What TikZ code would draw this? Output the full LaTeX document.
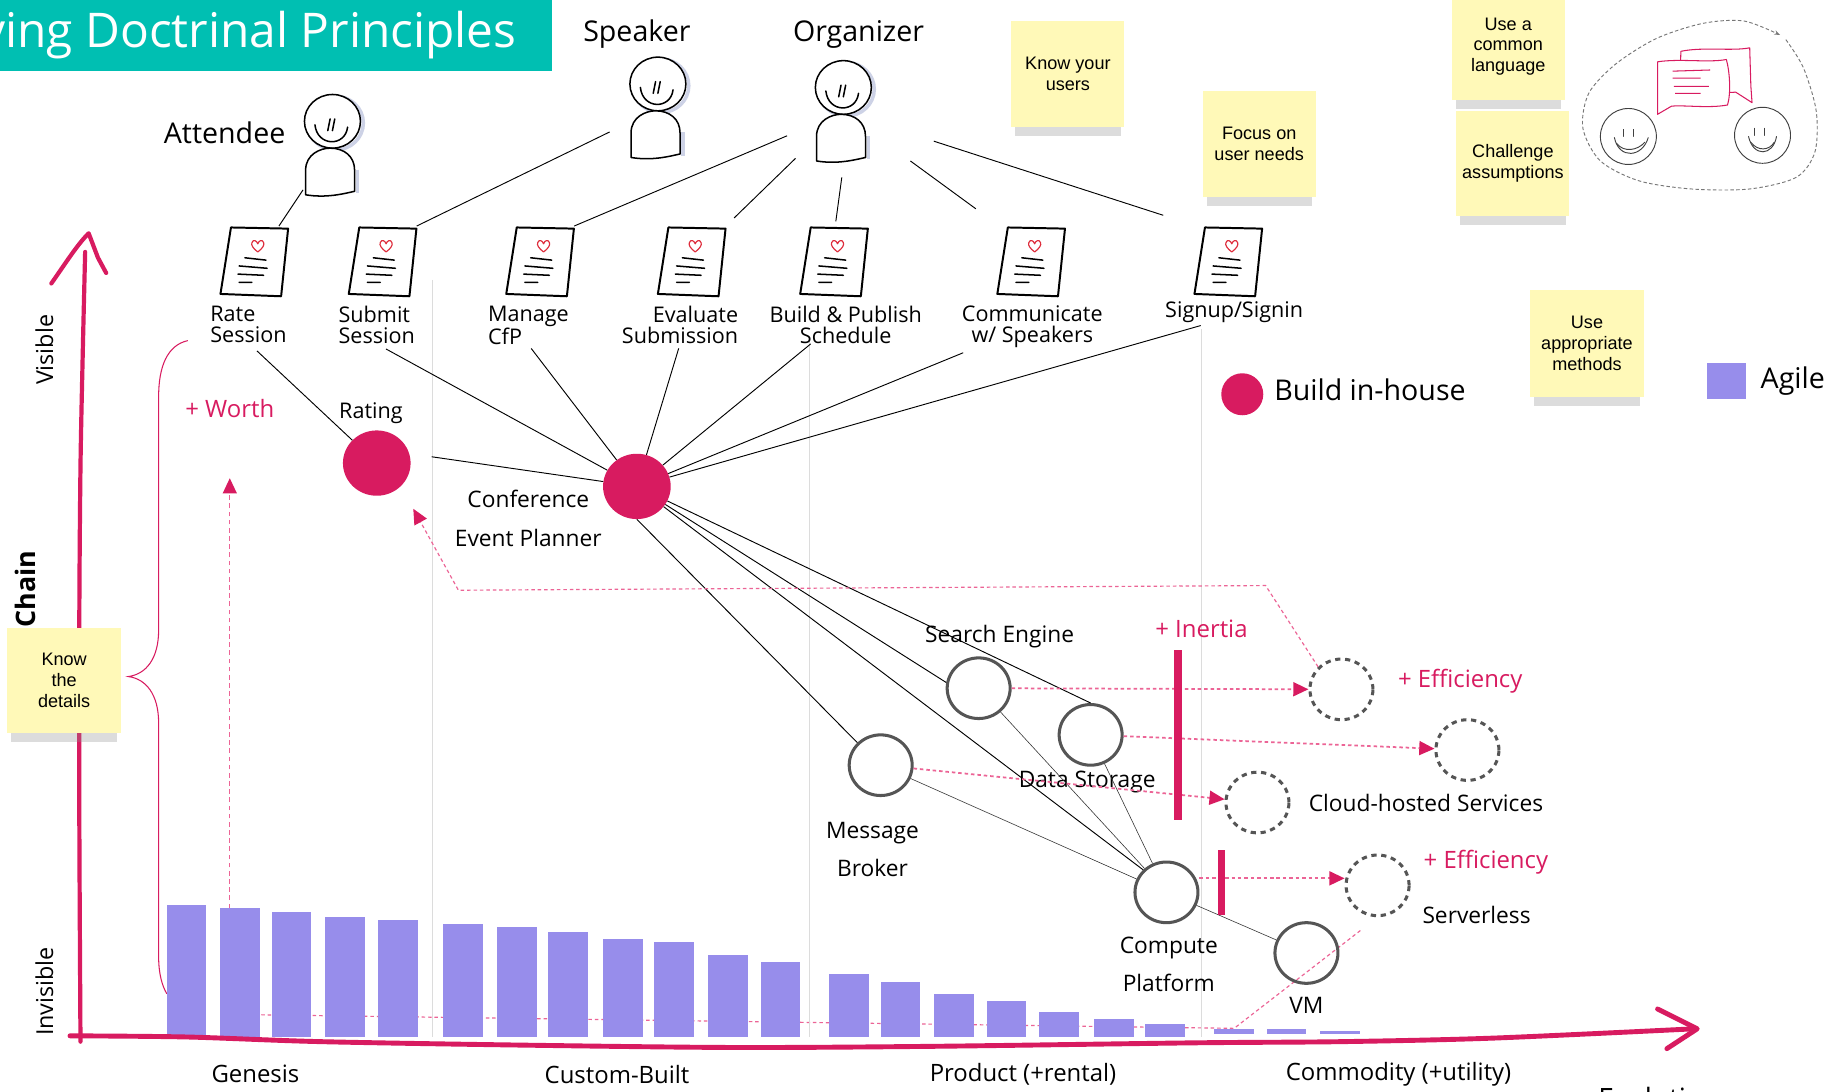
\documentclass[tikz,border=0pt]{standalone}
\usepackage{fontspec}
\setmainfont{Open Sans}
\newfontfamily\notefont{Liberation Sans}
\usetikzlibrary{positioning,shapes.geometric,arrows.meta,shadows,backgrounds}

\definecolor{wardpink}{RGB}{216,27,96}
\definecolor{softpink}{RGB}{236,100,150}
\definecolor{titleteal}{RGB}{0,191,178}
\definecolor{agile}{RGB}{151,141,235}
\definecolor{sticky}{RGB}{255,249,184}
\definecolor{gridgray}{RGB}{220,220,220}
\definecolor{inkgray}{RGB}{85,85,85}
\definecolor{heartred}{RGB}{222,45,60}
\definecolor{haze}{RGB}{205,210,230}

\tikzset{
  sketch/.style={line width=1.3pt, line cap=round, line join=round},
  % stick figure, origin in the middle of the head
  person/.pic={
    \begin{scope}[shift={(2.5,1.5)}, haze, line width=3pt]
      \draw (0,0) circle[x radius=24pt, y radius=23pt];
      \draw (19,40) -- (19,60);
    \end{scope}
    \draw[sketch, fill=white] (0,0) circle[x radius=24pt, y radius=23pt];
    \draw[sketch] (-15,3) .. controls (-13,22) and (11,22) .. (13,5);
    \draw[sketch] (-4,8) -- (-2,-2) (0,8) -- (2,-2);
    \draw[sketch, fill=white] (-23,63) -- (-23,42)
      .. controls (-23,28) and (-10,23) .. (-2,23)
      .. controls (10,23) and (19,30) .. (19,42) -- (19,60)
      .. controls (10,62) and (-5,66) .. (-23,63);
    \node[inner sep=0pt, minimum width=50pt, minimum height=92pt] (-fig) at (0,21) {};
  },
  % task sheet with a heart on top
  page/.pic={
    \draw[sketch, line width=1.7pt, fill=white] (-21,-29) -- (28,-28) -- (22,30) -- (-30,28) -- cycle;
    \draw[heartred, line width=1pt, line join=round] (2,-8)
      .. controls (-2,-11) and (-4,-14) .. (-3,-16)
      .. controls (-2,-19) and (1,-18) .. (2,-15)
      .. controls (3,-18) and (6,-19) .. (7,-16)
      .. controls (8,-14) and (6,-11) .. (2,-8);
    \draw[sketch] (-9,-3) -- (9,-1) (-14,4) -- (10,6) (-15,11) -- (7,12) (-14,18) -- (-3,18);
    \node[inner sep=0pt, minimum width=56pt, minimum height=60pt] (-page) at (0,0) {};
  },
}

\begin{document}
\begin{tikzpicture}[x=1pt, y=-1pt,
  actor/.style={inner sep=0pt, font=\fontsize{24.5}{28}\selectfont},
  task/.style={inner sep=0pt, font=\fontsize{18.5}{18}\selectfont},
  lbl/.style={inner sep=0pt, align=center, font=\fontsize{19.5}{33}\selectfont},
  stage/.style={inner sep=0pt, font=\fontsize{20.5}{24}\selectfont},
  tag/.style={inner sep=0pt, text=wardpink, font=\fontsize{20.5}{24}\selectfont},
  blob/.style={ellipse, fill=wardpink, inner sep=0pt, minimum width=58pt, minimum height=56pt},
  comp/.style={ellipse, draw=inkgray, line width=2.6pt, inner sep=0pt, minimum width=54pt, minimum height=52pt},
  future/.style={comp, dash pattern=on 4.5pt off 4pt},
  bar/.style={fill=agile, inner sep=0pt, minimum width=34pt, anchor=south},
  note/.style={fill=sticky, inner sep=2pt, minimum width=97pt, minimum height=91pt, align=center,
    font=\notefont\fontsize{15.5}{18}\selectfont,
    drop shadow={shadow xshift=0pt, shadow yshift=-12pt, shadow scale=0.93, opacity=0.3, fill=black!45}},
  link/.style={line width=0.8pt},
  sublink/.style={line width=0.5pt, black!80},
  evo/.style={softpink, line width=1pt, dash pattern=on 3pt off 2.5pt},
  push/.style={evo, line width=1.5pt, -{Triangle[length=13pt, width=12pt, color=wardpink, fill=wardpink]}},
  axis/.style={wardpink, line width=3.6pt, line cap=round, line join=round},
]
\useasboundingbox (0,0) rectangle (1568,936);
\begin{scope}[on background layer]
  \fill[white] (0,0) rectangle (1568,936);
\end{scope}

% stage dividers
\draw[gridgray, line width=0.8pt] (371,240) -- (371,889) (694,292) -- (694,889) (1030,282) -- (1030,889);

% axes
\draw[axis] plot[smooth] coordinates {(69,893) (68,700) (68,530) (69,400) (71,300) (73,216)};
\draw[axis] (44,243) .. controls (56,226) and (66,210) .. (76,200) -- (84,221) -- (91,234);
\node[rotate=90, inner sep=0pt, font=\fontsize{20}{24}\selectfont] (visL) at (38,300) {Visible};
\node[rotate=90, inner sep=0pt, font=\fontsize{20}{24}\selectfont] (invisL) at (38,850) {Invisible};
\node[rotate=90, inner sep=0pt, font=\bfseries\fontsize{23}{26}\selectfont] (chainL) at (22,505) {Chain};

% brace over the chain
\draw[wardpink, line width=0.9pt] (161,292) .. controls (143,296) and (136,315) .. (136,340) -- (136,540)
  .. controls (136,565) and (125,578) .. (110,580) .. controls (125,582) and (136,595) .. (136,620)
  -- (136,820) .. controls (136,835) and (139,845) .. (143,852);

% agile bars
\foreach \n/\x/\t/\b in {1/143/776/889, 2/189/779/889, 3/233/782/889, 4/279/786/889, 5/324/789/889,
    6/380/792/889, 7/426/795/889, 8/470/799/889, 9/517/805/889, 10/561/808/889, 11/607/819/889,
    12/652/825/889, 13/711/835/889, 14/755/842/889, 15/801/852/889, 16/846/858/889, 17/891/868/889,
    18/938/874/889, 19/982/878/889, 20/1041/882/887, 21/1086/882/887, 22/1132/884/887}
  \node[bar, minimum height=\b-\t] (bar\n) at (\x+17,\b) {};

\draw[axis, line width=4.2pt] plot[smooth] coordinates {(60,888) (160,889) (275,893) (450,896) (630,898)
  (800,897) (1025,894) (1150,893) (1279,890) (1452,882)};
\draw[axis, line width=4.2pt] (1421,865) -- (1455,882) -- (1429,899);

% stages
\node[stage] (genesis) at (219,921) {Genesis};
\node[stage] (custom) at (529,921) {Custom-Built};
\node[stage] (product) at (877,921) {Product (+rental)};
\node[stage] (commodity) at (1199,921) {Commodity (+utility)};
\node[anchor=base west, inner sep=0pt, font=\fontsize{24}{28}\selectfont] (evolL) at (1370,950) {Evolution};

% users
\pic (att) at (285,104) {person};
\pic (spk) at (564,72) {person};
\pic (org) at (723,75) {person};
\node[actor, left=15pt of att-fig, yshift=11pt] (attL) {Attendee};
\node[actor, above=5pt of spk-fig, xshift=-18pt] (spkL) {Speaker};
\node[actor, above=8pt of org-fig, xshift=13pt] (orgL) {Organizer};

% user needs
\pic (rate) at (219,224) {page};
\pic (submit) at (329,224) {page};
\pic (manage) at (464,224) {page};
\pic (eval) at (594,224) {page};
\pic (build) at (716,224) {page};
\pic (comm) at (885,224) {page};
\pic (sign) at (1054,224) {page};
\node[task, align=left, below=8pt of rate-page, xshift=-6pt] (rateL) {Rate\\Session};
\node[task, align=left, below=8pt of submit-page, xshift=-6pt] (submitL) {Submit\\Session};
\node[task, align=left, below=8pt of manage-page, xshift=-11pt] (manageL) {Manage\\CfP};
\node[task, align=right, below=8pt of eval-page, xshift=-11pt] (evalL) {Evaluate\\Submission};
\node[task, align=center, below=8pt of build-page, xshift=9pt] (buildL) {Build \& Publish\\Schedule};
\node[task, align=center, below=8pt of comm-page] (commL) {Communicate\\w/ Speakers};
\node[task, below=4pt of sign-page, xshift=4pt] (signL) {Signup/Signin};

% components
\node[blob] (rating) at (323,397) {};
\node[blob] (conf) at (546,417) {};
\node[comp] (search) at (839,590) {};
\node[comp] (storage) at (935,630) {};
\node[comp] (broker) at (755,656) {};
\node[comp] (compute) at (1000,765) {};
\node[comp] (vm) at (1120,817) {};
\node[future] (searchNext) at (1150,591) {};
\node[future] (storageNext) at (1258,643) {};
\node[future] (brokerNext) at (1078,688) {};
\node[future] (computeNext) at (1181,759) {};

\node[task, above=5pt of rating, xshift=-5pt] (ratingL) {Rating};
\node[lbl, anchor=north east] (confL) at (516,420) {Conference\\Event Planner};
\node[lbl, above=7pt of search, xshift=18pt] (searchL) {Search Engine};
\node[lbl, below=3.5pt of storage, xshift=-3pt] (storageL) {Data Storage};
\node[lbl, below=21pt of broker, xshift=-7pt] (brokerL) {Message\\Broker};
\node[lbl, below=10.5pt of compute, xshift=2pt] (computeL) {Compute\\Platform};
\node[lbl, below=10.5pt of vm] (vmL) {VM};
\node[lbl, right=15.5pt of brokerNext] (cloudL) {Cloud-hosted Services};
\node[lbl, right=10pt of computeNext, yshift=-25pt] (serverlessL) {Serverless};
\node[tag, right=20pt of searchNext, yshift=7pt] (effA) {+ Efficiency};
\node[tag, right=11pt of computeNext, yshift=20pt] (effB) {+ Efficiency};
\node[tag] (worthL) at (197,350) {+ Worth};

% users to needs
\draw[link] (att-fig) -- (rate-page);
\draw[link, shorten <=18pt] (spk-fig) -- (submit-page.north east);
\draw[link, shorten <=25pt] (org-fig) -- (manage-page.north east);
\draw[link, shorten <=22pt, shorten >=10pt] (org-fig) -- (eval-page.north east);
\draw[link, shorten <=10pt, shorten >=4pt] (org-fig.south) -- (build-page.north);
\draw[link, shorten <=40pt, shorten >=25pt] (org-fig) -- (comm-page.north west);
\draw[link, shorten <=55pt, shorten >=30pt] (org-fig) -- (sign-page.north west);

% needs to components
\draw[link, shorten <=10pt] (rateL.south) -- (rating);
\draw[link, shorten <=9pt] (submitL.south) -- (conf);
\draw[link, shorten <=4pt] (manageL.south) -- (conf);
\draw[link, shorten <=4pt] (evalL.south) -- (conf);
\draw[link] ([xshift=-30pt]buildL.south) -- (conf);
\draw[link, shorten <=10pt] ([xshift=-50pt]commL.south) -- (conf);
\draw[link, shorten <=9pt] ([xshift=-20pt]signL.south) -- (conf);
\draw[link, shorten <=18pt] ([yshift=8pt]rating.east) -- (conf);
\draw[link] (conf) -- (storage.north);
\draw[link] (conf) -- (search.170);
\draw[link] (conf) -- (compute.north west);
\draw[link] (conf.south) -- (broker.north west);
\draw[sublink] (search) -- (compute);
\draw[sublink] (storage) -- (compute);
\draw[sublink] (broker) -- (compute);
\draw[sublink] (compute) -- (vm);

% evolution
\draw[push] (search) -- (searchNext);
\draw[push] (storage) -- (storageNext);
\draw[push] (broker) -- (brokerNext);
\draw[push] ([yshift=12pt]compute.east) -- ([yshift=6pt]computeNext.west);

\coordinate (turnA) at (1085,502);
\coordinate (turnB) at (393,506);
\draw[evo, -{Triangle[length=13pt, width=12pt, color=wardpink, fill=wardpink]}, shorten >=22pt]
  (searchNext.north west) -- (turnA) -- (turnB) -- (rating.south east);
\coordinate (worthTop) at (197,410);
\draw[evo, dash pattern=on 4pt off 3pt, -{Triangle[length=13pt, width=12pt, color=wardpink, fill=wardpink]}]
  ([xshift=-9pt]bar2.north) -- (worthTop);
\coordinate (evoStart) at (224,870);
\begin{scope}[on background layer]
  \draw[evo, shorten >=18pt] (evoStart) -- (bar20.north) -- (computeNext.south);
\end{scope}

% inertia
\node[fill=wardpink, inner sep=0pt, minimum width=6.5pt, minimum height=146pt] (inertiaA) at (1010,630) {};
\node[fill=wardpink, inner sep=0pt, minimum width=6.5pt, minimum height=55pt] (inertiaB) at (1047,756.5) {};
\node[tag, above=10pt of inertiaA, xshift=20pt] (inertiaL) {+ Inertia};

% legend
\node[blob, minimum width=36pt, minimum height=36pt] (legBlob) at (1065,338) {};
\node[actor, right=9pt of legBlob, yshift=4pt] (legBuild) {Build in-house};
\node[fill=agile, inner sep=0pt, minimum width=34pt, minimum height=31pt] (legAgile) at (1480,326.5) {};
\node[actor, right=12pt of legAgile] (legAgileL) {Agile};

% principles
\node[note] (knowUsers) at (915.5,63.5) {Know your\\users};
\node[note] (focus) at (1079.5,123.5) {Focus on\\user needs};
\node[note] (common) at (1293,40) {Use a\\common\\language};
\node[note, minimum height=90pt] (challenge) at (1297,140) {Challenge\\assumptions};
\node[note] (methods) at (1360.5,294.5) {Use\\appropriate\\methods};
\node[note, minimum width=98pt, minimum height=90pt] (details) at (55,583) {Know\\the\\details};

% conversation sketch
\draw[inkgray!80, line width=0.8pt, dash pattern=on 3pt off 2pt, -{Stealth[length=5pt]}]
  plot[smooth] coordinates {(1531,34) (1546,58) (1557,95) (1556,130) (1540,152) (1500,162) (1450,162)
  (1405,155) (1372,138) (1357,110) (1362,80) (1385,55) (1420,33) (1460,20) (1495,18) (1526,30)};
\begin{scope}[black!75, line width=0.8pt, line cap=round]
  \draw (1396,117) circle[radius=24pt];
  \draw (1392,111) -- (1392,117) (1400,111) -- (1400,117);
  \draw (1384,118) .. controls (1388,137) and (1408,135) .. (1413,118);
  \draw (1386,123) .. controls (1392,131) and (1404,129) .. (1410,122);
  \draw (1511,116) circle[radius=24pt];
  \draw (1504,110) -- (1504,116) (1513,110) -- (1513,116);
  \draw (1499,117) .. controls (1503,135) and (1520,134) .. (1523,117);
  \draw (1501,122) .. controls (1507,130) and (1517,129) .. (1521,122);
\end{scope}
\begin{scope}[wardpink, line width=0.9pt, line join=round]
  \draw[fill=white] (1441,44) .. controls (1460,40) and (1485,44) .. (1500,41) -- (1501,74) -- (1502,88)
    -- (1488,79) .. controls (1470,80) and (1450,82) .. (1440,80) -- cycle;
  \draw[fill=white] (1421,53) .. controls (1440,50) and (1465,54) .. (1480,51)
    .. controls (1483,62) and (1484,80) .. (1481,90) .. controls (1465,93) and (1445,90) .. (1433,91)
    -- (1421,98) -- (1421,70) -- cycle;
  \draw (1434,61) -- (1466,60) (1434,67) -- (1458,67) (1435,74) -- (1465,74) (1436,80) -- (1458,80);
\end{scope}

% title
\fill[titleteal] (0,0) rectangle (473,61);
\node[anchor=base east, inner sep=0pt, text=white, font=\fontsize{41}{41}\selectfont] (title) at (443,41)
  {ying Doctrinal Principles};
\end{tikzpicture}
\end{document}
